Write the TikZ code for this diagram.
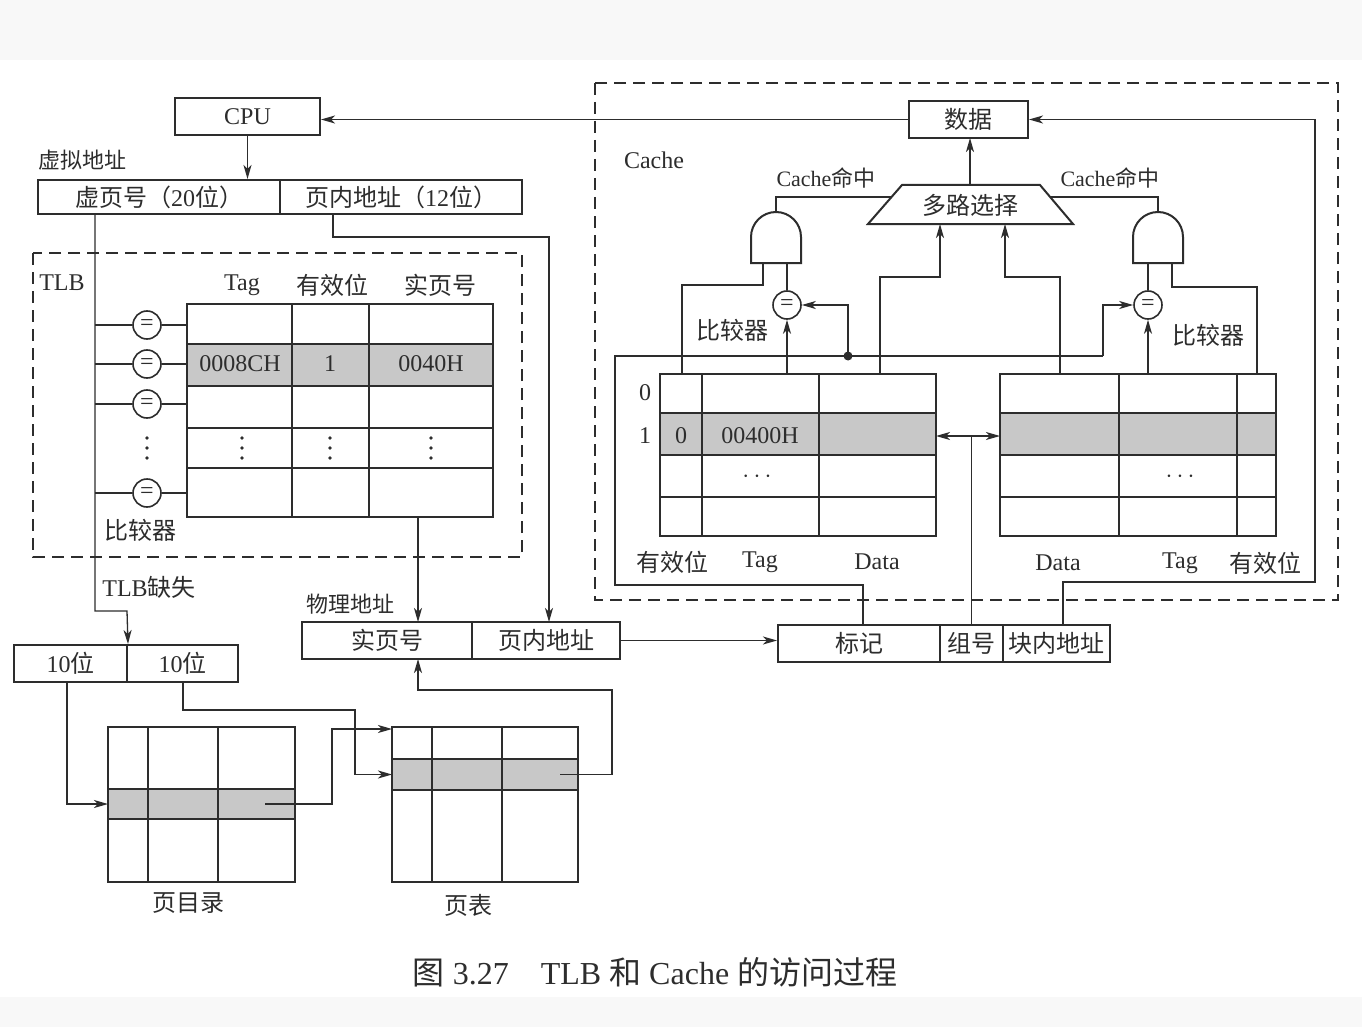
\documentclass[tikz,border=0pt]{standalone}
\usepackage{fontspec}
\setmainfont{Liberation Serif}
\newfontfamily\cjk{Noto Sans CJK SC}
\usetikzlibrary{arrows.meta}
\definecolor{ink}{RGB}{45,45,45}
\definecolor{hitgray}{RGB}{200,200,200}
\definecolor{paper}{RGB}{248,248,248}
\newcommand{\zh}[1]{{\cjk #1}}

\begin{document}
\begin{tikzpicture}[x=1pt, y=-1pt, color=ink,
    font=\fontsize{24}{28}\selectfont,
    box/.style={draw, line width=2pt, inner sep=0pt, minimum height=37pt},
    cmp/.style={draw, circle, line width=1.6pt, minimum size=28pt, inner sep=0pt},
    wire/.style={line width=1.3pt},
    arr/.style={wire, -{Stealth[length=14pt, width=8pt, inset=4pt]}},
    dbl/.style={wire, {Stealth[length=14pt, width=8pt, inset=4pt]}-{Stealth[length=14pt, width=8pt, inset=4pt]}},
    cellgrid/.style={line width=2pt},
    hit/.style={fill=hitgray},
    dashbox/.style={line width=2.2pt, dash pattern=on 12pt off 7pt},
    small/.style={font=\fontsize{22}{26}\selectfont},
    lbl/.style={inner sep=0pt}]

    \useasboundingbox (0,0) rectangle (1362,1027);
    \fill[paper] (0,0) rectangle (1362,1027);
    \fill[white] (0,60) rectangle (1362,997);

    % CPU and virtual address
    \node[box, minimum width=145pt] (cpu) at (247.5,117) {CPU};
    \node[small, lbl, anchor=west] (valbl) at (38,160) {\zh{虚拟地址}};
    \node[box, minimum width=242pt, minimum height=34pt] (vpn) at (159,197) {\zh{虚页号（}20\zh{位）}};
    \node[box, minimum width=242pt, minimum height=34pt] (voff) at (401,197) {\zh{页内地址（}12\zh{位）}};
    \draw[arr] (cpu.south) -- (cpu.south |- vpn.north);

    % TLB
    \draw[dashbox] (33,253) rectangle (522,557);
    \node[lbl] (tlblbl) at (62,283) {TLB};
    \node[lbl] (hTag) at (242,285) {Tag};
    \node[lbl] (hValid) at (332,285) {\zh{有效位}};
    \node[lbl] (hPpn) at (440,285) {\zh{实页号}};
    \fill[hit] (187,344) rectangle (493,386);
    \draw[cellgrid] (187,304) rectangle (493,517);
    \foreach \y in {344,386,428,468} \draw[cellgrid] (187,\y) -- (493,\y);
    \foreach \x in {292,369} \draw[cellgrid] (\x,304) -- (\x,517);
    \node (eTag) at (240,364) {0008CH};
    \node (eValid) at (330,364) {1};
    \node (ePpn) at (431,364) {0040H};
    \foreach \n/\y in {1/325,2/364,3/404,4/493} {
        \node[cmp] (c\n) at (147,\y) {=};
        \draw[wire] (95,\y) -- (c\n.west);
        \draw[wire] (c\n.east) -- (187,\y);
    }
    % vertical dots
    \foreach \x in {147,242,330,431}
        \foreach \y in {438,448,458} \fill (\x,\y) circle[radius=1.8pt];
    \node (tlbcmp) at (140,530) {\zh{比较器}};

    % physical address and cache address
    \node[small, lbl] (palbl) at (350,604) {\zh{物理地址}};
    \node[box, minimum width=170pt] (ppn) at (387,640.5) {\zh{实页号}};
    \node[box, minimum width=148pt] (poff) at (546,640.5) {\zh{页内地址}};
    \node[box, minimum width=162pt] (tagf) at (859,643.5) {\zh{标记}};
    \node[box, minimum width=63pt] (setf) at (971.5,643.5) {\zh{组号}};
    \node[box, minimum width=107pt] (offf) at (1056.5,643.5) {\zh{块内地址}};

    % two-level page table
    \node[lbl] (misslbl) at (149,587) {TLB\zh{缺失}};
    \node[box, minimum width=113pt] (b1) at (70.5,663.5) {10\zh{位}};
    \node[box, minimum width=111pt] (b2) at (182.5,663.5) {10\zh{位}};
    \fill[hit] (108,789) rectangle (295,819);
    \draw[cellgrid] (108,727) rectangle (295,882);
    \draw[cellgrid] (108,789) -- (295,789) (108,819) -- (295,819) (148,727) -- (148,882) (218,727) -- (218,882);
    \fill[hit] (392,759) rectangle (578,790);
    \draw[cellgrid] (392,727) rectangle (578,882);
    \draw[cellgrid] (392,759) -- (578,759) (392,790) -- (578,790) (432,727) -- (432,882) (502,727) -- (502,882);
    \node (pdlbl) at (188,903) {\zh{页目录}};
    \node (ptlbl) at (468,905) {\zh{页表}};

    % wires on the left
    \draw[arr] (95,214) -- (95,611) -- (127,611) -- (b1.north east);
    \draw[arr] (333,214) -- (333,237) -- (549,237) -- (549,622);
    \draw[arr] (418,517) -- (418,622);
    \draw[arr] (67,682) -- (67,804) -- (108,804);
    \draw[arr] (183,682) -- (183,710) -- (355,710) -- (355,774.5) -- (392,774.5);
    \draw[arr] (265,804) -- (332,804) -- (332,729) -- (392,729);
    \draw[arr] (560,774.5) -- (612,774.5) -- (612,690) -- (418,690) -- (418,659);
    \draw[arr] (poff.east) -- (poff.east -| tagf.west);

    % Cache
    \draw[dashbox] (595,83) rectangle (1338,600);
    \node[lbl] (cachelbl) at (654,160) {Cache};
    \node[box, minimum width=119pt] (data) at (968.5,119.5) {\zh{数据}};
    \draw[line width=2pt] (902,185) -- (1040,185) -- (1073,224) -- (868,224) -- cycle;
    \node[lbl] (mux) at (970,205) {\zh{多路选择}};
    \draw[line width=2pt] (751,263) -- (751,237) arc[start angle=180, end angle=0, radius=25pt] -- (801,263) -- cycle;
    \draw[line width=2pt] (1133,263) -- (1133,237) arc[start angle=180, end angle=0, radius=25pt] -- (1183,263) -- cycle;
    \node[small, lbl] (hitL) at (826,178) {Cache\zh{命中}};
    \node[small, lbl] (hitR) at (1110,178) {Cache\zh{命中}};
    \node[cmp] (cL) at (787,305) {=};
    \node[cmp] (cR) at (1148,305) {=};
    \node[lbl] (cmpL) at (732,330) {\zh{比较器}};
    \node[lbl] (cmpR) at (1208,335) {\zh{比较器}};
    \foreach \xa/\xb/\xc/\xd in {660/702/819/936, 1000/1119/1237/1276} {
        \fill[hit] (\xa,413) rectangle (\xd,455);
        \draw[cellgrid] (\xa,374) rectangle (\xd,536);
        \foreach \y in {413,455,497} \draw[cellgrid] (\xa,\y) -- (\xd,\y);
        \draw[cellgrid] (\xb,374) -- (\xb,536) (\xc,374) -- (\xc,536);
    }
    \node (set0) at (645,393) {0};
    \node (set1) at (645,436) {1};
    \node (lValid) at (681,436) {0};
    \node (lTag) at (760,436) {00400H};
    \node (ldots) at (757,477) {$\cdots$};
    \node (rdots) at (1180,477) {$\cdots$};
    \node (lhValid) at (672,562) {\zh{有效位}};
    \node (lhTag) at (760,562) {Tag};
    \node (lhData) at (877,562) {Data};
    \node (rhData) at (1058,563) {Data};
    \node (rhTag) at (1180,563) {Tag};
    \node (rhValid) at (1265,563) {\zh{有效位}};

    % wires in the Cache
    \draw[wire] (682,374) -- (682,285) -- (763,285) -- (763,263);
    \draw[arr] (787,374) -- (cL.south);
    \draw[wire] (cL.north) -- (787,263);
    \draw[arr] (880,374) -- (880,277) -- (940,277) -- (940,224);
    \draw[wire] (776,212) -- (776,197) -- (891,197);
    \draw[wire] (1257,374) -- (1257,287) -- (1172,287) -- (1172,263);
    \draw[arr] (1148,374) -- (cR.south);
    \draw[wire] (cR.north) -- (1148,263);
    \draw[arr] (1060,374) -- (1060,277) -- (1005,277) -- (1005,224);
    \draw[wire] (1158,212) -- (1158,197) -- (1050,197);
    \draw[arr] (970,185) -- (970,138);
    \draw[wire] (863,625) -- (863,585) -- (615,585) -- (615,356) -- (1103,356);
    \draw[arr] (1103,356) -- (1103,305) -- (cR.west);
    \draw[arr] (848,356) -- (848,305) -- (cL.east);
    \fill (848,356) circle[radius=4.5pt];
    \draw[wire] (setf.north) -- (setf.north |- 0,436);
    \draw[dbl] (936,436) -- (1000,436);
    \draw[arr] (1063,625) -- (1063,582) -- (1315,582) -- (1315,119.5) -- (data.east);
    \draw[arr] (data.west) -- (data.west -| cpu.east);

    % caption
    \node[font=\fontsize{32}{36}\selectfont] (cap) at (655,972) {\zh{图} 3.27\quad TLB \zh{和} Cache \zh{的访问过程}};
\end{tikzpicture}
\end{document}
